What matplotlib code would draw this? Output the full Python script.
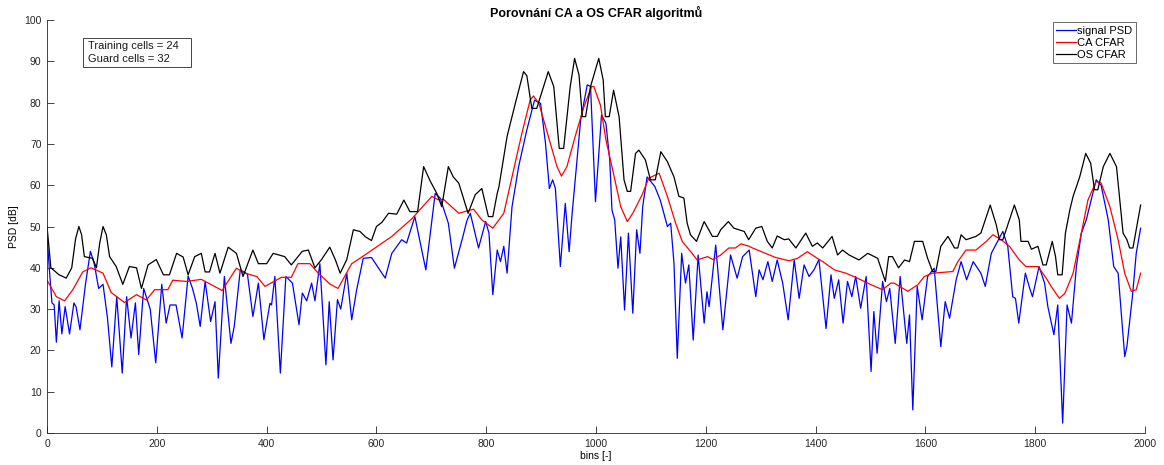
import matplotlib.pyplot as plt
from matplotlib.patches import Rectangle

# values (bin, dB)
sig_bins = [0, 4, 9, 13, 17, 22, 27, 33, 41, 49, 53, 60, 70, 79, 86, 94, 102, 110, 118, 127,
            137, 145, 153, 161, 167, 176, 188, 198, 209, 217, 224, 235, 246, 257, 265, 272, 279,
            288, 298, 306, 312, 323, 335, 341, 352, 365, 375, 385, 395, 406, 409, 415, 425, 435,
            447, 459, 465, 473, 482, 488, 497, 508, 514, 521, 529, 535, 546, 555, 564, 576, 591,
            604, 616, 628, 646, 655, 670, 690, 707, 716, 731, 742, 756, 765, 771, 786, 799, 805,
            812, 820, 826, 832, 838, 847, 859, 874, 888, 899, 908, 915, 921, 926, 935, 944, 951,
            956, 972, 984, 990, 999, 1010, 1018, 1025, 1029, 1034, 1040, 1045, 1052, 1059, 1067,
            1074, 1080, 1085, 1093, 1107, 1117, 1130, 1136, 1142, 1148, 1156, 1163, 1169, 1177,
            1186, 1197, 1202, 1206, 1218, 1231, 1245, 1257, 1267, 1279, 1291, 1297, 1304, 1313,
            1321, 1330, 1340, 1350, 1361, 1370, 1379, 1388, 1397, 1406, 1419, 1428, 1434, 1442,
            1450, 1458, 1466, 1473, 1482, 1492, 1501, 1506, 1512, 1522, 1529, 1535, 1545, 1554,
            1566, 1571, 1577, 1585, 1594, 1604, 1616, 1628, 1636, 1644, 1656, 1665, 1675, 1687,
            1701, 1709, 1720, 1741, 1750, 1759, 1764, 1770, 1782, 1790, 1795, 1807, 1817, 1823,
            1834, 1841, 1850, 1858, 1866, 1875, 1884, 1893, 1911, 1920, 1933, 1943, 1951, 1963,
            1967, 1977, 1984, 1992]
sig_db = [48, 40, 31.5, 31, 22, 32, 24, 30.6, 24, 31.5, 30.5, 25, 36, 44, 41, 35, 36, 28, 16, 33,
          14.5, 33, 23, 31.5, 19, 35, 30, 17, 36, 26.6, 31, 31, 23, 38, 35, 31.4, 25.8,
          36.7, 27, 31.8, 13.3, 37.9, 21.7, 25.8, 39.5, 38.5, 28.2, 36.3, 22.6, 31.4, 31, 37.9, 14.5, 37.9,
          36.3, 26.2, 33.9, 32, 36.3, 32, 41, 16.5, 31.8, 17.7, 32.3, 30, 38.7, 27.4, 34.7, 42.3, 42.5,
          39.9, 37.5, 43.5, 46.8, 46, 52.4, 39.5, 58, 56.9, 50.8, 39.9, 46.8, 51.5, 53.2, 44.8, 51.2, 48.4,
          33.5, 44.3, 41.5, 45.2, 38.7, 54.8, 64.5, 73.4, 80.6, 79.8, 70.1, 59.2, 61.3, 59.2, 40.3, 55.6, 43.9,
          52.4, 75.8, 84.3, 83.9, 56, 77, 75, 66.1, 54, 51.6, 39.9, 47.5, 29.8, 48.4, 29,
          49.2, 43.5, 54.8, 62, 59.7, 56.4, 50, 50.8, 41.1, 18.1, 43.5, 36.3, 40.7, 22.5,
          43.1, 26.6, 34.2, 30.6, 45.5, 25, 43.1, 37.5, 42.7, 44.3, 33, 39.5, 37.1, 41.5,
          36.7, 41.9, 36.3, 27.4, 41.9, 32.6, 40.7, 37.9, 39.5, 42, 25.3, 38.3, 32.6, 37.1,
          26.6, 36.7, 33, 37.9, 30.2, 37.9, 14.9, 29.4, 19.3, 36.7, 31.8, 35, 21.7, 37.9,
          21.7, 28.6, 5.6, 35.5, 27.4, 37.9, 39.9, 20.9, 31.8, 27.8, 37.1, 41.5, 37.1, 41.5,
          38.7, 35.5, 43.5, 48.8, 45.2, 33, 32.6, 26.6, 38.7, 35, 33, 40.3, 36.3, 30.6,
          23.8, 31, 2.4, 31, 26.6, 40.3, 48.4, 51.6, 61.3, 60, 51.6, 40.3, 38.7, 18.5,
          21, 33, 43.5, 49.6]

ca_bins = [0, 17, 32, 47, 65, 80, 102, 117, 141, 163, 181, 196, 220, 229, 254, 281, 319, 345,
           360, 382, 397, 427, 445, 457, 479, 494, 515, 530, 555, 579, 628, 664, 701, 712, 722,
           750, 777, 792, 812, 832, 847, 865, 880, 886, 896, 914, 929, 937, 947, 962, 978, 992,
           996, 1008, 1018, 1029, 1045, 1057, 1067, 1084, 1096, 1115, 1130, 1145, 1157, 1175,
           1184, 1203, 1213, 1227, 1242, 1254, 1264, 1279, 1285, 1327, 1352, 1367, 1385, 1403,
           1413, 1434, 1455, 1476, 1501, 1522, 1537, 1543, 1568, 1586, 1598, 1613, 1650, 1659,
           1674, 1692, 1711, 1723, 1738, 1753, 1771, 1783, 1805, 1820, 1829, 1844, 1854, 1869,
           1884, 1896, 1911, 1920, 1936, 1951, 1963, 1975, 1984, 1992]
ca_db = [37, 33, 32, 34.7, 39, 40, 38.7, 34, 31.6, 33.5, 32.2, 34.7, 34.7, 37, 36.7, 37.2, 34.5, 39.9,
         38.7, 37.9, 35.5, 37.7, 37.7, 41, 41, 38.7, 36.1, 35, 41, 43.1, 47.6, 51.8, 57.3, 56.5, 56.6,
         53.2, 54.2, 51.6, 49.6, 53.2, 62, 72.6, 80.6, 81.6, 79.8, 71.4, 64.5, 62.2, 64.5, 71.8, 79, 83.9,
         83.9, 79.4, 71, 64.5, 54.8, 51.2, 53.2, 57.7, 61.7, 62.9, 57.3, 50.8, 46.4, 43.5,
         41.9, 42.7, 42, 43.1, 44.8, 44.8, 45.8, 45.2, 44.8, 42.5, 41.7, 42.3, 43.9, 42.3,
         41.5, 39.5, 38.7, 37.5, 35.9, 34.7, 36.3, 36.3, 34.3, 35.9, 37.9, 38.7, 39.1, 41.5,
         44.3, 44.3, 46.4, 48, 46.8, 45.2, 41.9, 40.3, 40.3, 37.5, 35.5, 32.6, 33.8, 38.7,
         48.4, 56.4, 60.9, 60.5, 54.8, 46.8, 38.7, 34.3, 34.7, 38.7]

os_bins = [0, 7, 22, 35, 45, 52, 58, 63, 68, 83, 90, 96, 102, 108, 114, 126, 138, 150, 163, 172,
           184, 199, 212, 223, 236, 248, 257, 269, 281, 288, 296, 306, 315, 330, 345, 357, 375,
           385, 400, 412, 433, 445, 465, 476, 488, 500, 515, 525, 534, 546, 558, 570, 580, 591,
           600, 610, 622, 637, 650, 661, 675, 686, 698, 710, 719, 731, 740, 750, 767, 780, 792,
           804, 812, 820, 823, 838, 853, 868, 874, 883, 892, 913, 923, 933, 941, 953, 961, 969,
           975, 981, 990, 1005, 1013, 1017, 1024, 1032, 1042, 1051, 1057, 1063, 1072, 1078, 1090,
           1099, 1108, 1118, 1130, 1142, 1151, 1160, 1166, 1172, 1183, 1197, 1212, 1221, 1227,
           1241, 1251, 1270, 1278, 1291, 1302, 1312, 1321, 1330, 1343, 1351, 1364, 1382, 1394,
           1403, 1413, 1430, 1440, 1449, 1461, 1479, 1495, 1513, 1527, 1533, 1540, 1551, 1562,
           1571, 1580, 1595, 1604, 1613, 1619, 1628, 1641, 1653, 1659, 1665, 1674, 1692, 1701,
           1718, 1729, 1735, 1741, 1762, 1771, 1774, 1787, 1793, 1805, 1814, 1820, 1831, 1837,
           1841, 1849, 1855, 1863, 1869, 1881, 1892, 1901, 1908, 1914, 1924, 1936, 1948, 1960,
           1967, 1972, 1978, 1984, 1992]
os_db = [50, 40, 38.3, 37.5, 40, 47, 50, 48, 42.7, 42.3, 40, 46, 50, 48, 42.7, 40.3, 36, 40.3, 40, 35,
         40.7, 42, 38.3, 38.3, 43.5, 42.6, 38.3, 42.7, 43.5, 39, 39, 43.5, 38.7, 45, 43.5, 37.9, 44.3,
         41, 41, 43.5, 42.7, 40.7, 44, 44.3, 40, 42, 45, 42, 38.7, 42, 49.2, 48.8, 47.5, 46.6,
         50, 51, 53.2, 53, 56.4, 53.6, 53.6, 64.5, 61, 58, 54.8, 64.5, 62, 60.5, 53.2, 57.7, 59.2,
         52.4, 52.4, 58, 59.5, 71.8, 79.8, 87.5, 86.5, 78.6, 78.6, 87.5, 83.9, 68.9, 68.9, 83.9, 90.7, 86.7,
         76.6, 76.6, 83.9, 90.7, 85.5, 76.6, 76.6, 83, 76.6, 61.3, 58.5, 58.5, 67.7, 68.5, 66.1,
         61.3, 61.3, 68.1, 65.7, 62, 57.3, 56.9, 50.8, 48, 46.4, 51.2, 47.6, 47.6, 49.2,
         51.2, 49.6, 48.8, 46.8, 49.6, 50, 46.4, 44.8, 47.7, 46.8, 47, 44.8, 48.4, 45.2,
         46, 44.8, 47.6, 43.1, 44.3, 43.1, 41.9, 43.5, 42.3, 36.7, 42.7, 42.7, 40, 41.9,
         41.5, 46.4, 46.4, 42.3, 39.1, 39.1, 45.2, 47.6, 44.8, 44.8, 48, 46.8, 47.6, 48.4,
         55.2, 50.4, 46.8, 46.8, 55.2, 51.6, 46.4, 46.4, 44.5, 45.2, 40.7, 40.7, 46.4, 42.7,
         38.3, 38.3, 48.4, 54, 57.3, 62, 67.7, 65.3, 58.9, 58.9, 64.5, 67.7, 64.5, 48.4,
         46.8, 44.8, 44.8, 49.2, 55.2]

info_lines = ['Training cells = 24', 'Guard cells = 32']

plt.rcParams['font.family'] = ['Liberation Sans', 'DejaVu Sans']

fig = plt.figure(figsize=(11.64, 4.65), dpi=100)
ax = fig.add_axes([0.0404, 0.0688, 0.9433, 0.8882])

ax.plot(sig_bins, sig_db, color='#0000ff', linewidth=0.9, label='signal PSD')
ax.plot(ca_bins, ca_db, color='#ff0000', linewidth=0.9, label='CA CFAR')
ax.plot(os_bins, os_db, color='black', linewidth=0.9, label='OS CFAR')

ax.set_xlim(0, 2000)
ax.set_ylim(0, 100)
ax.set_xticks(range(0, 2001, 200))
ax.set_yticks(range(0, 101, 10))
ax.tick_params(direction='in', length=5, labelsize=7.5, colors='#262626', width=0.6, pad=4)
for side in ['top', 'right']:
    ax.spines[side].set_visible(False)
for side in ['left', 'bottom']:
    ax.spines[side].set_color('#262626')
    ax.spines[side].set_linewidth(0.6)

ax.set_title('Porovnání CA a OS CFAR algoritmů', fontsize=9, fontweight='bold', pad=2)
ax.set_xlabel('bins [-]', fontsize=7.5, labelpad=2)
ax.set_ylabel('PSD [dB]', fontsize=7.5, labelpad=4)

# annotation box (MATLAB style: more room on the right)
ax.add_patch(Rectangle((0.0329, 0.887), 0.0983, 0.070, transform=ax.transAxes,
                       facecolor='white', edgecolor='#262626', linewidth=0.6, zorder=5))
for i, line in enumerate(info_lines):
    ax.text(0.0375, 0.937 - i * 0.031, line, transform=ax.transAxes, fontsize=8,
            va='center', ha='left', color='#1a1a1a', zorder=6)

leg = ax.legend(loc='upper right', bbox_to_anchor=(0.9935, 1.0), fontsize=8, frameon=True,
                fancybox=False, handlelength=1.8, handletextpad=0.1, borderpad=0.3,
                labelspacing=0.2, borderaxespad=0.2)
leg.get_frame().set_edgecolor('#262626')
leg.get_frame().set_linewidth(0.6)

fig.savefig('out.png', dpi=100)
plt.close(fig)
